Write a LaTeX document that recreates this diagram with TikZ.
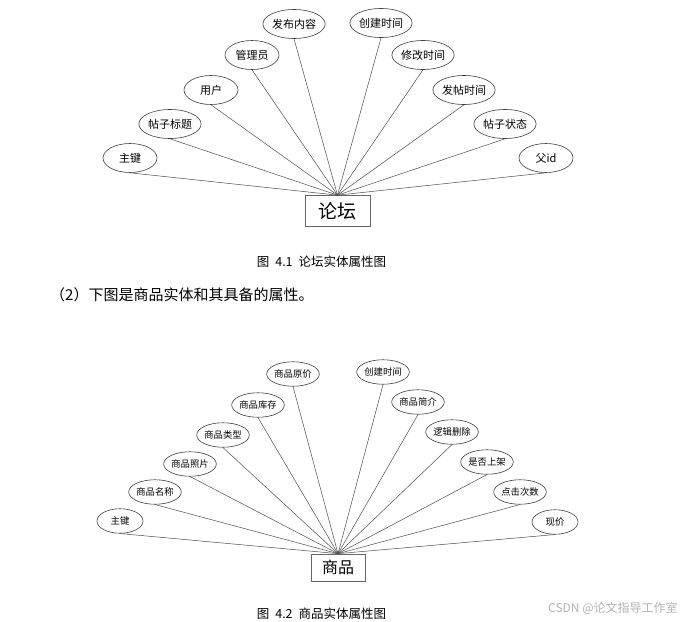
\documentclass[tikz,border=0pt]{standalone}
\usepackage{fontspec}
\setmainfont{Noto Sans CJK SC}
\usetikzlibrary{shapes.geometric}
\begin{document}
\begin{tikzpicture}[x=1pt,y=-1pt,
  attrA/.style={ellipse, draw=black!75, line width=0.6pt, inner sep=0pt,
    minimum width=54pt, minimum height=29pt, font=\fontsize{11}{12}\selectfont},
  attrB/.style={ellipse, draw=black!75, line width=0.6pt, inner sep=0pt,
    minimum width=46pt, minimum height=24.5pt, font=\fontsize{9.3}{10}\selectfont},
  entA/.style={rectangle, draw=black!60, line width=0.7pt, inner sep=0pt,
    minimum width=65pt, minimum height=31pt, font=\fontsize{19}{21}\selectfont},
  entB/.style={rectangle, draw=black!60, line width=0.7pt, inner sep=0pt,
    minimum width=54pt, minimum height=27pt, font=\fontsize{16}{18}\selectfont},
  link/.style={draw=black!70, line width=0.5pt},
  caption/.style={font=\fontsize{12.5}{13}\selectfont, inner sep=0pt},
  body/.style={font=\fontsize{15}{16}\selectfont, inner sep=0pt, anchor=west},
  wmark/.style={font=\fontsize{12}{13}\selectfont, text=black!30, inner sep=0pt, anchor=west}
]
\useasboundingbox[fill=white] (0,0) rectangle (690,621);

% ---------- Diagram 1 ----------
\node[entA] (lt) at (337.5,211) {论坛};
\node[attrA] (a1) at (130,158) {主键};
\node[attrA] (a2) at (170,124) {帖子标题};
\node[attrA] (a3) at (211,90) {用户};
\node[attrA] (a4) at (252,55) {管理员};
\node[attrA] (a5) at (294,24) {发布内容};
\node[attrA] (a6) at (381,23) {创建时间};
\node[attrA] (a7) at (423,55) {修改时间};
\node[attrA] (a8) at (464,90) {发帖时间};
\node[attrA] (a9) at (505,124) {帖子状态};
\node[attrA] (a10) at (546,158) {父id};
\foreach \i in {1,...,10} {\draw[link] (a\i.south) -- (lt.north);}

\node[caption] (c1) at (321.5,262) {图\hspace{6pt}4.1\hspace{6pt}论坛实体属性图};
\node[body] (t2) at (50,295) {（2）下图是商品实体和其具备的属性。};

% ---------- Diagram 2 ----------
\node[entB] (sp) at (338,567.5) {商品};
\node[attrB] (b1) at (120,521) {主键};
\node[attrB] (b2) at (155,492) {商品名称};
\node[attrB] (b3) at (190,464) {商品照片};
\node[attrB] (b4) at (223,435) {商品类型};
\node[attrB] (b5) at (258,405) {商品库存};
\node[attrB] (b6) at (293,374) {商品原价};
\node[attrB] (b7) at (383,372) {创建时间};
\node[attrB] (b8) at (418,402) {商品简介};
\node[attrB] (b9) at (452,432) {逻辑删除};
\node[attrB] (b10) at (487,462) {是否上架};
\node[attrB] (b11) at (520,492) {点击次数};
\node[attrB] (b12) at (555,522) {现价};
\foreach \i in {1,...,12} {\draw[link] (b\i.south) -- (sp.north);}

\node[caption] (c2) at (321.5,614) {图\hspace{6pt}4.2\hspace{6pt}商品实体属性图};
\node[wmark] (wm) at (548,608) {CSDN @论文指导工作室};
\end{tikzpicture}
\end{document}
